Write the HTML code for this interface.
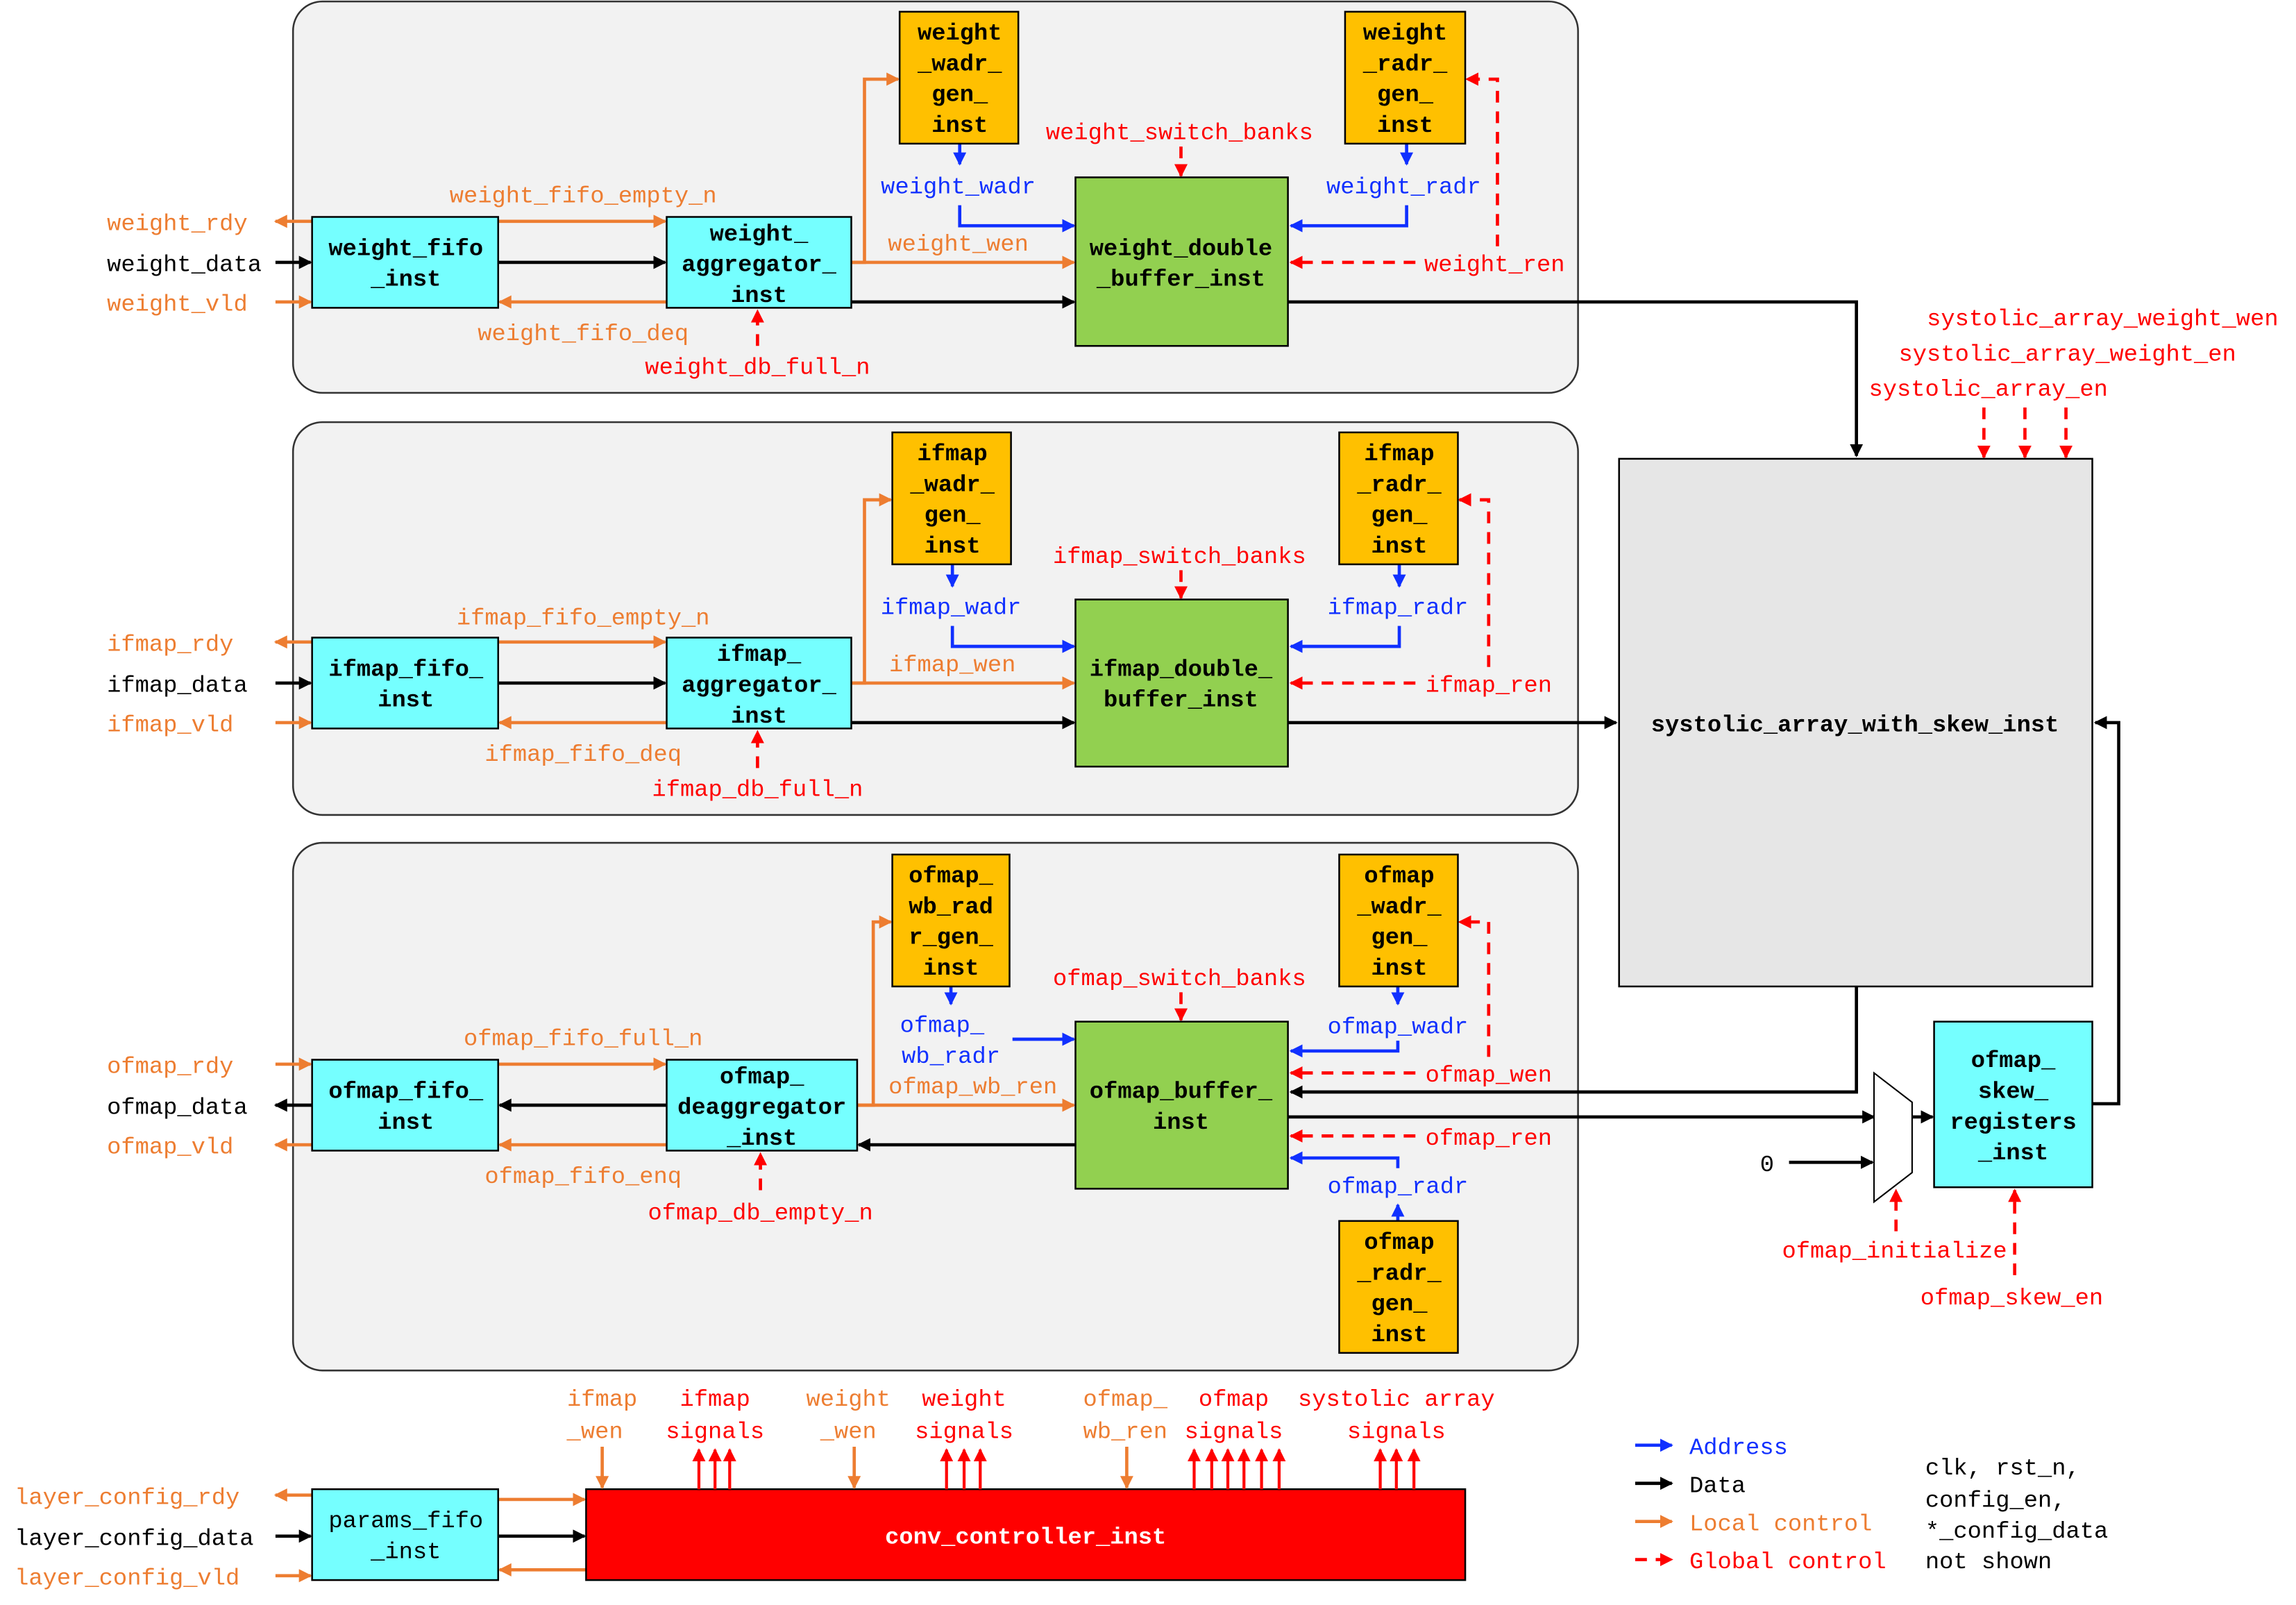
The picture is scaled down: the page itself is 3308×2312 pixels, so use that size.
<!DOCTYPE html>
<html><head><meta charset="utf-8"><style>
html,body{margin:0;padding:0;background:#fff;}
svg{display:block;}
text{font-family:"Liberation Mono","DejaVu Sans Mono",monospace;font-size:16px;}
.b{font-weight:bold;fill:#000;}
.o{fill:#ed7d31;}.r{fill:#ff0000;}.bl{fill:#1030ff;}.k{fill:#000;}
.lo{stroke:#ed7d31;stroke-width:2.2;fill:none;}
.lk{stroke:#000;stroke-width:2.2;fill:none;}
.lb{stroke:#1030ff;stroke-width:2.2;fill:none;}
.lr{stroke:#ff0000;stroke-width:2.2;fill:none;stroke-dasharray:8,6;}
</style></head><body>
<svg width="3308" height="2312" viewBox="0 0 1567 1095" preserveAspectRatio="none" xmlns="http://www.w3.org/2000/svg">
<defs>
<marker id="ao" markerWidth="9" markerHeight="9" refX="8" refY="4.5" orient="auto" markerUnits="userSpaceOnUse"><path d="M0,0 L9,4.5 L0,9 z" fill="#ed7d31"/></marker>
<marker id="ak" markerWidth="9" markerHeight="9" refX="8" refY="4.5" orient="auto" markerUnits="userSpaceOnUse"><path d="M0,0 L9,4.5 L0,9 z" fill="#000"/></marker>
<marker id="ab" markerWidth="9" markerHeight="9" refX="8" refY="4.5" orient="auto" markerUnits="userSpaceOnUse"><path d="M0,0 L9,4.5 L0,9 z" fill="#1030ff"/></marker>
<marker id="ar" markerWidth="9" markerHeight="9" refX="8" refY="4.5" orient="auto" markerUnits="userSpaceOnUse"><path d="M0,0 L9,4.5 L0,9 z" fill="#ff0000"/></marker>
</defs>

<rect x="200" y="1" width="877" height="267" rx="20" fill="#f2f2f2" stroke="#333" stroke-width="1.2"/>
<rect x="200" y="288" width="877" height="268" rx="20" fill="#f2f2f2" stroke="#333" stroke-width="1.2"/>
<rect x="200" y="575" width="877" height="360" rx="20" fill="#f2f2f2" stroke="#333" stroke-width="1.2"/>

<text x="73" y="157" class="o">weight_rdy</text>
<text x="73" y="185" class="k">weight_data</text>
<text x="73" y="212" class="o">weight_vld</text>
<line x1="213" y1="151" x2="188" y2="151" class="lo" marker-end="url(#ao)"/>
<line x1="188" y1="179" x2="212" y2="179" class="lk" marker-end="url(#ak)"/>
<line x1="188" y1="206" x2="212" y2="206" class="lo" marker-end="url(#ao)"/>
<line x1="340" y1="151" x2="454" y2="151" class="lo" marker-end="url(#ao)"/>
<line x1="340" y1="179" x2="454" y2="179" class="lk" marker-end="url(#ak)"/>
<line x1="455" y1="206" x2="341" y2="206" class="lo" marker-end="url(#ao)"/>
<text x="398" y="138" class="o" text-anchor="middle">weight_fifo_empty_n</text>
<text x="398" y="232" class="o" text-anchor="middle">weight_fifo_deq</text>
<text x="517" y="255" class="r" text-anchor="middle">weight_db_full_n</text>
<line x1="517" y1="236" x2="517" y2="212" class="lr" marker-end="url(#ar)"/>
<polyline points="581,179 590,179 590,54 613,54" class="lo" marker-end="url(#ao)"/>
<line x1="581" y1="179" x2="733" y2="179" class="lo" marker-end="url(#ao)"/>
<text x="654" y="171" class="o" text-anchor="middle">weight_wen</text>
<line x1="581" y1="206" x2="733" y2="206" class="lk" marker-end="url(#ak)"/>
<line x1="655" y1="98" x2="655" y2="112" class="lb" marker-end="url(#ab)"/>
<text x="654" y="132" class="bl" text-anchor="middle">weight_wadr</text>
<polyline points="655,140 655,154 733,154" class="lb" marker-end="url(#ab)"/>
<line x1="960" y1="98" x2="960" y2="112" class="lb" marker-end="url(#ab)"/>
<text x="958" y="132" class="bl" text-anchor="middle">weight_radr</text>
<polyline points="960,140 960,154 881,154" class="lb" marker-end="url(#ab)"/>
<text x="805" y="95" class="r" text-anchor="middle">weight_switch_banks</text>
<line x1="806" y1="100" x2="806" y2="120" class="lr" marker-end="url(#ar)"/>
<text x="1020" y="185" class="r" text-anchor="middle">weight_ren</text>
<line x1="966" y1="179" x2="881" y2="179" class="lr" marker-end="url(#ar)"/>
<polyline points="1022,168 1022,54 1001,54" class="lr" marker-end="url(#ar)"/>
<polyline points="879,206 1267,206 1267,311" class="lk" marker-end="url(#ak)"/>

<rect x="213" y="148" width="127" height="62" fill="#75ffff" stroke="#000" stroke-width="1.2"/>
<text x="277" y="174" class="b" text-anchor="middle">weight_fifo</text>
<text x="277" y="195" class="b" text-anchor="middle">_inst</text>
<rect x="455" y="148" width="126" height="62" fill="#75ffff" stroke="#000" stroke-width="1.2"/>
<text x="518" y="164" class="b" text-anchor="middle">weight_</text>
<text x="518" y="185" class="b" text-anchor="middle">aggregator_</text>
<text x="518" y="206" class="b" text-anchor="middle">inst</text>
<rect x="614" y="8" width="81" height="90" fill="#ffc000" stroke="#000" stroke-width="1.2"/>
<text x="655" y="27" class="b" text-anchor="middle">weight</text>
<text x="655" y="48" class="b" text-anchor="middle">_wadr_</text>
<text x="655" y="69" class="b" text-anchor="middle">gen_</text>
<text x="655" y="90" class="b" text-anchor="middle">inst</text>
<rect x="918" y="8" width="82" height="90" fill="#ffc000" stroke="#000" stroke-width="1.2"/>
<text x="959" y="27" class="b" text-anchor="middle">weight</text>
<text x="959" y="48" class="b" text-anchor="middle">_radr_</text>
<text x="959" y="69" class="b" text-anchor="middle">gen_</text>
<text x="959" y="90" class="b" text-anchor="middle">inst</text>
<rect x="734" y="121" width="145" height="115" fill="#92d050" stroke="#000" stroke-width="1.2"/>
<text x="806" y="174" class="b" text-anchor="middle">weight_double</text>
<text x="806" y="195" class="b" text-anchor="middle">_buffer_inst</text>

<text x="73" y="444" class="o">ifmap_rdy</text>
<text x="73" y="472" class="k">ifmap_data</text>
<text x="73" y="499" class="o">ifmap_vld</text>
<line x1="213" y1="438" x2="188" y2="438" class="lo" marker-end="url(#ao)"/>
<line x1="188" y1="466" x2="212" y2="466" class="lk" marker-end="url(#ak)"/>
<line x1="188" y1="493" x2="212" y2="493" class="lo" marker-end="url(#ao)"/>
<line x1="340" y1="438" x2="454" y2="438" class="lo" marker-end="url(#ao)"/>
<line x1="340" y1="466" x2="454" y2="466" class="lk" marker-end="url(#ak)"/>
<line x1="455" y1="493" x2="341" y2="493" class="lo" marker-end="url(#ao)"/>
<text x="398" y="426" class="o" text-anchor="middle">ifmap_fifo_empty_n</text>
<text x="398" y="519" class="o" text-anchor="middle">ifmap_fifo_deq</text>
<text x="517" y="543" class="r" text-anchor="middle">ifmap_db_full_n</text>
<line x1="517" y1="524" x2="517" y2="499" class="lr" marker-end="url(#ar)"/>
<polyline points="581,466 590,466 590,341 608,341" class="lo" marker-end="url(#ao)"/>
<line x1="581" y1="466" x2="733" y2="466" class="lo" marker-end="url(#ao)"/>
<text x="650" y="458" class="o" text-anchor="middle">ifmap_wen</text>
<line x1="581" y1="493" x2="733" y2="493" class="lk" marker-end="url(#ak)"/>
<line x1="650" y1="385" x2="650" y2="400" class="lb" marker-end="url(#ab)"/>
<text x="649" y="419" class="bl" text-anchor="middle">ifmap_wadr</text>
<polyline points="650,427 650,441 733,441" class="lb" marker-end="url(#ab)"/>
<line x1="955" y1="385" x2="955" y2="400" class="lb" marker-end="url(#ab)"/>
<text x="954" y="419" class="bl" text-anchor="middle">ifmap_radr</text>
<polyline points="955,427 955,441 881,441" class="lb" marker-end="url(#ab)"/>
<text x="805" y="384" class="r" text-anchor="middle">ifmap_switch_banks</text>
<line x1="806" y1="389" x2="806" y2="408" class="lr" marker-end="url(#ar)"/>
<text x="1016" y="472" class="r" text-anchor="middle">ifmap_ren</text>
<line x1="966" y1="466" x2="881" y2="466" class="lr" marker-end="url(#ar)"/>
<polyline points="1016,455 1016,341 996,341" class="lr" marker-end="url(#ar)"/>
<line x1="879" y1="493" x2="1103" y2="493" class="lk" marker-end="url(#ak)"/>

<rect x="213" y="435" width="127" height="62" fill="#75ffff" stroke="#000" stroke-width="1.2"/>
<text x="277" y="461" class="b" text-anchor="middle">ifmap_fifo_</text>
<text x="277" y="482" class="b" text-anchor="middle">inst</text>
<rect x="455" y="435" width="126" height="62" fill="#75ffff" stroke="#000" stroke-width="1.2"/>
<text x="518" y="451" class="b" text-anchor="middle">ifmap_</text>
<text x="518" y="472" class="b" text-anchor="middle">aggregator_</text>
<text x="518" y="493" class="b" text-anchor="middle">inst</text>
<rect x="609" y="295" width="81" height="90" fill="#ffc000" stroke="#000" stroke-width="1.2"/>
<text x="650" y="314" class="b" text-anchor="middle">ifmap</text>
<text x="650" y="335" class="b" text-anchor="middle">_wadr_</text>
<text x="650" y="356" class="b" text-anchor="middle">gen_</text>
<text x="650" y="377" class="b" text-anchor="middle">inst</text>
<rect x="914" y="295" width="81" height="90" fill="#ffc000" stroke="#000" stroke-width="1.2"/>
<text x="955" y="314" class="b" text-anchor="middle">ifmap</text>
<text x="955" y="335" class="b" text-anchor="middle">_radr_</text>
<text x="955" y="356" class="b" text-anchor="middle">gen_</text>
<text x="955" y="377" class="b" text-anchor="middle">inst</text>
<rect x="734" y="409" width="145" height="114" fill="#92d050" stroke="#000" stroke-width="1.2"/>
<text x="806" y="461" class="b" text-anchor="middle">ifmap_double_</text>
<text x="806" y="482" class="b" text-anchor="middle">buffer_inst</text>

<text x="73" y="732" class="o">ofmap_rdy</text>
<text x="73" y="760" class="k">ofmap_data</text>
<text x="73" y="787" class="o">ofmap_vld</text>
<line x1="188" y1="726" x2="212" y2="726" class="lo" marker-end="url(#ao)"/>
<line x1="213" y1="754" x2="188" y2="754" class="lk" marker-end="url(#ak)"/>
<line x1="213" y1="781" x2="188" y2="781" class="lo" marker-end="url(#ao)"/>
<line x1="340" y1="726" x2="454" y2="726" class="lo" marker-end="url(#ao)"/>
<line x1="455" y1="754" x2="341" y2="754" class="lk" marker-end="url(#ak)"/>
<line x1="455" y1="781" x2="341" y2="781" class="lo" marker-end="url(#ao)"/>
<text x="398" y="713" class="o" text-anchor="middle">ofmap_fifo_full_n</text>
<text x="398" y="807" class="o" text-anchor="middle">ofmap_fifo_enq</text>
<text x="519" y="832" class="r" text-anchor="middle">ofmap_db_empty_n</text>
<line x1="519" y1="812" x2="519" y2="787" class="lr" marker-end="url(#ar)"/>
<polyline points="585,754 596,754 596,629 608,629" class="lo" marker-end="url(#ao)"/>
<line x1="585" y1="754" x2="733" y2="754" class="lo" marker-end="url(#ao)"/>
<text x="664" y="746" class="o" text-anchor="middle">ofmap_wb_ren</text>
<line x1="734" y1="781" x2="586" y2="781" class="lk" marker-end="url(#ak)"/>
<line x1="649" y1="673" x2="649" y2="685" class="lb" marker-end="url(#ab)"/>
<text x="643" y="704" class="bl" text-anchor="middle">ofmap_</text>
<text x="649" y="725" class="bl" text-anchor="middle">wb_radr</text>
<line x1="691" y1="709" x2="733" y2="709" class="lb" marker-end="url(#ab)"/>
<line x1="954" y1="673" x2="954" y2="685" class="lb" marker-end="url(#ab)"/>
<text x="954" y="705" class="bl" text-anchor="middle">ofmap_wadr</text>
<polyline points="954,710 954,717 881,717" class="lb" marker-end="url(#ab)"/>
<text x="805" y="672" class="r" text-anchor="middle">ofmap_switch_banks</text>
<line x1="806" y1="677" x2="806" y2="696" class="lr" marker-end="url(#ar)"/>
<text x="1016" y="738" class="r" text-anchor="middle">ofmap_wen</text>
<line x1="966" y1="732" x2="881" y2="732" class="lr" marker-end="url(#ar)"/>
<polyline points="1016,721 1016,629 996,629" class="lr" marker-end="url(#ar)"/>
<polyline points="1267,673 1267,745 881,745" class="lk" marker-end="url(#ak)"/>
<line x1="879" y1="762" x2="1279" y2="762" class="lk" marker-end="url(#ak)"/>
<text x="1016" y="781" class="r" text-anchor="middle">ofmap_ren</text>
<line x1="966" y1="775" x2="881" y2="775" class="lr" marker-end="url(#ar)"/>
<text x="954" y="814" class="bl" text-anchor="middle">ofmap_radr</text>
<polyline points="954,797 954,790 881,790" class="lb" marker-end="url(#ab)"/>
<line x1="954" y1="833" x2="954" y2="822" class="lb" marker-end="url(#ab)"/>

<rect x="213" y="723" width="127" height="62" fill="#75ffff" stroke="#000" stroke-width="1.2"/>
<text x="277" y="749" class="b" text-anchor="middle">ofmap_fifo_</text>
<text x="277" y="770" class="b" text-anchor="middle">inst</text>
<rect x="455" y="723" width="130" height="62" fill="#75ffff" stroke="#000" stroke-width="1.2"/>
<text x="520" y="739" class="b" text-anchor="middle">ofmap_</text>
<text x="520" y="760" class="b" text-anchor="middle">deaggregator</text>
<text x="520" y="781" class="b" text-anchor="middle">_inst</text>
<rect x="609" y="583" width="80" height="90" fill="#ffc000" stroke="#000" stroke-width="1.2"/>
<text x="649" y="602" class="b" text-anchor="middle">ofmap_</text>
<text x="649" y="623" class="b" text-anchor="middle">wb_rad</text>
<text x="649" y="644" class="b" text-anchor="middle">r_gen_</text>
<text x="649" y="665" class="b" text-anchor="middle">inst</text>
<rect x="914" y="583" width="81" height="90" fill="#ffc000" stroke="#000" stroke-width="1.2"/>
<text x="955" y="602" class="b" text-anchor="middle">ofmap</text>
<text x="955" y="623" class="b" text-anchor="middle">_wadr_</text>
<text x="955" y="644" class="b" text-anchor="middle">gen_</text>
<text x="955" y="665" class="b" text-anchor="middle">inst</text>
<rect x="914" y="833" width="81" height="90" fill="#ffc000" stroke="#000" stroke-width="1.2"/>
<text x="955" y="852" class="b" text-anchor="middle">ofmap</text>
<text x="955" y="873" class="b" text-anchor="middle">_radr_</text>
<text x="955" y="894" class="b" text-anchor="middle">gen_</text>
<text x="955" y="915" class="b" text-anchor="middle">inst</text>
<rect x="734" y="697" width="145" height="114" fill="#92d050" stroke="#000" stroke-width="1.2"/>
<text x="806" y="749" class="b" text-anchor="middle">ofmap_buffer_</text>
<text x="806" y="770" class="b" text-anchor="middle">inst</text>

<text x="1435" y="222" class="r" text-anchor="middle">systolic_array_weight_wen</text>
<text x="1411" y="246" class="r" text-anchor="middle">systolic_array_weight_en</text>
<text x="1357" y="270" class="r" text-anchor="middle">systolic_array_en</text>
<line x1="1354" y1="278" x2="1354" y2="312" class="lr" marker-end="url(#ar)"/>
<line x1="1382" y1="278" x2="1382" y2="312" class="lr" marker-end="url(#ar)"/>
<line x1="1410" y1="278" x2="1410" y2="312" class="lr" marker-end="url(#ar)"/>
<rect x="1105" y="313" width="323" height="360" fill="#e6e6e6" stroke="#000" stroke-width="1.2"/>
<text x="1266" y="499" class="b" text-anchor="middle">systolic_array_with_skew_inst</text>

<polygon points="1279,732 1305,752 1305,800 1279,820" fill="#fff" stroke="#000" stroke-width="1"/>
<text x="1206" y="799" class="k" text-anchor="middle">0</text>
<line x1="1221" y1="793" x2="1278" y2="793" class="lk" marker-end="url(#ak)"/>
<line x1="1305" y1="762" x2="1319" y2="762" class="lk" marker-end="url(#ak)"/>
<polyline points="1428,753 1446,753 1446,493 1430,493" class="lk" marker-end="url(#ak)"/>
<rect x="1320" y="697" width="108" height="113" fill="#75ffff" stroke="#000" stroke-width="1.2"/>
<text x="1374" y="728" class="b" text-anchor="middle">ofmap_</text>
<text x="1374" y="749" class="b" text-anchor="middle">skew_</text>
<text x="1374" y="770" class="b" text-anchor="middle">registers</text>
<text x="1374" y="791" class="b" text-anchor="middle">_inst</text>
<text x="1293" y="858" class="r" text-anchor="middle">ofmap_initialize</text>
<line x1="1294" y1="840" x2="1294" y2="812" class="lr" marker-end="url(#ar)"/>
<text x="1373" y="890" class="r" text-anchor="middle">ofmap_skew_en</text>
<line x1="1375" y1="870" x2="1375" y2="812" class="lr" marker-end="url(#ar)"/>

<text x="10" y="1026" class="o">layer_config_rdy</text>
<text x="10" y="1054" class="k">layer_config_data</text>
<text x="10" y="1081" class="o">layer_config_vld</text>
<line x1="213" y1="1020" x2="188" y2="1020" class="lo" marker-end="url(#ao)"/>
<line x1="188" y1="1048" x2="212" y2="1048" class="lk" marker-end="url(#ak)"/>
<line x1="188" y1="1075" x2="212" y2="1075" class="lo" marker-end="url(#ao)"/>
<line x1="340" y1="1023" x2="399" y2="1023" class="lo" marker-end="url(#ao)"/>
<line x1="340" y1="1048" x2="399" y2="1048" class="lk" marker-end="url(#ak)"/>
<line x1="400" y1="1071" x2="341" y2="1071" class="lo" marker-end="url(#ao)"/>
<rect x="213" y="1016" width="127" height="62" fill="#75ffff" stroke="#000" stroke-width="1.2"/>
<text x="277" y="1042" class="k" text-anchor="middle">params_fifo</text>
<text x="277" y="1063" class="k" text-anchor="middle">_inst</text>
<rect x="400" y="1016" width="600" height="62" fill="#ff0000" stroke="#000" stroke-width="1.2"/>
<text x="700" y="1053" class="b" text-anchor="middle" style="fill:#fff">conv_controller_inst</text>

<text x="411" y="959" class="o" text-anchor="middle">ifmap</text>
<text x="406" y="981" class="o" text-anchor="middle">_wen</text>
<line x1="411" y1="987" x2="411" y2="1015" class="lo" marker-end="url(#ao)"/>
<text x="488" y="959" class="r" text-anchor="middle">ifmap</text>
<text x="488" y="981" class="r" text-anchor="middle">signals</text>
<text x="579" y="959" class="o" text-anchor="middle">weight</text>
<text x="579" y="981" class="o" text-anchor="middle">_wen</text>
<line x1="583" y1="987" x2="583" y2="1015" class="lo" marker-end="url(#ao)"/>
<text x="658" y="959" class="r" text-anchor="middle">weight</text>
<text x="658" y="981" class="r" text-anchor="middle">signals</text>
<text x="768" y="959" class="o" text-anchor="middle">ofmap_</text>
<text x="768" y="981" class="o" text-anchor="middle">wb_ren</text>
<line x1="769" y1="987" x2="769" y2="1015" class="lo" marker-end="url(#ao)"/>
<text x="842" y="959" class="r" text-anchor="middle">ofmap</text>
<text x="842" y="981" class="r" text-anchor="middle">signals</text>
<text x="953" y="959" class="r" text-anchor="middle">systolic array</text>
<text x="953" y="981" class="r" text-anchor="middle">signals</text>
<g stroke="#ff0000" stroke-width="2" marker-end="url(#ar)">
<line x1="477" y1="1016" x2="477" y2="989"/><line x1="488" y1="1016" x2="488" y2="989"/><line x1="498" y1="1016" x2="498" y2="989"/>
<line x1="646" y1="1016" x2="646" y2="989"/><line x1="658" y1="1016" x2="658" y2="989"/><line x1="669" y1="1016" x2="669" y2="989"/>
<line x1="815" y1="1016" x2="815" y2="989"/><line x1="827" y1="1016" x2="827" y2="989"/><line x1="838" y1="1016" x2="838" y2="989"/><line x1="849" y1="1016" x2="849" y2="989"/><line x1="861" y1="1016" x2="861" y2="989"/><line x1="873" y1="1016" x2="873" y2="989"/>
<line x1="942" y1="1016" x2="942" y2="989"/><line x1="953" y1="1016" x2="953" y2="989"/><line x1="965" y1="1016" x2="965" y2="989"/>
</g>

<line x1="1116" y1="986" x2="1141" y2="986" class="lb" marker-end="url(#ab)"/>
<text x="1153" y="992" class="bl">Address</text>
<line x1="1116" y1="1012" x2="1141" y2="1012" class="lk" marker-end="url(#ak)"/>
<text x="1153" y="1018" class="k">Data</text>
<line x1="1116" y1="1038" x2="1141" y2="1038" class="lo" marker-end="url(#ao)"/>
<text x="1153" y="1044" class="o">Local control</text>
<line x1="1116" y1="1064" x2="1141" y2="1064" class="lr" marker-end="url(#ar)"/>
<text x="1153" y="1070" class="r">Global control</text>
<text x="1314" y="1006" class="k">clk, rst_n,</text>
<text x="1314" y="1028" class="k">config_en,</text>
<text x="1314" y="1049" class="k">*_config_data</text>
<text x="1314" y="1070" class="k">not shown</text>
</svg>
</body></html>
